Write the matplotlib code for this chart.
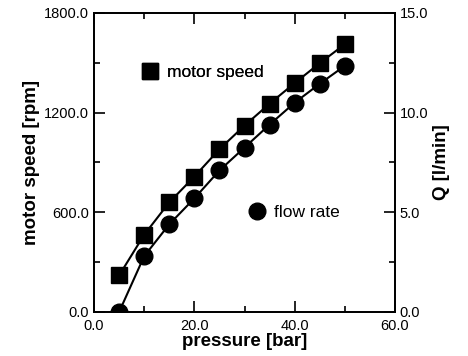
import matplotlib
matplotlib.use("Agg")
import matplotlib.pyplot as plt
from matplotlib.lines import Line2D
from matplotlib.ticker import MultipleLocator, FormatStrFormatter

plt.rcParams['font.family'] = ['Liberation Sans', 'DejaVu Sans']

# data
pressure = [5, 10, 15, 20, 25, 30, 35, 40, 45, 50]
motor_speed = [220, 465, 660, 815, 980, 1122, 1254, 1378, 1498, 1612]
flow_rate = [0.0, 2.8, 4.4, 5.7, 7.1, 8.25, 9.4, 10.5, 11.45, 12.35]

fig = plt.figure(figsize=(4.68, 3.56), dpi=100)
ax = fig.add_axes([0.2009, 0.1236, 0.6431, 0.8399])
ax2 = ax.twinx()

ax.plot(pressure, motor_speed, color='black', lw=1.5, marker='s', ms=11.5, mfc='black', mec='black')
ax2.plot(pressure, flow_rate, color='black', lw=1.5, marker='o', ms=12, mfc='black', mec='black')

ax.set_xlim(0, 60)
ax.set_ylim(0, 1800)
ax2.set_ylim(0, 15)

ax.xaxis.set_major_locator(MultipleLocator(20))
ax.xaxis.set_minor_locator(MultipleLocator(10))
ax.yaxis.set_major_locator(MultipleLocator(600))
ax.yaxis.set_minor_locator(MultipleLocator(300))
ax2.yaxis.set_major_locator(MultipleLocator(5))
ax2.yaxis.set_minor_locator(MultipleLocator(2.5))
ax.xaxis.set_major_formatter(FormatStrFormatter('%.1f'))
ax.yaxis.set_major_formatter(FormatStrFormatter('%.1f'))
ax2.yaxis.set_major_formatter(FormatStrFormatter('%.1f'))

ax.tick_params(which='both', direction='in', top=True, right=False, labelsize=10.5, width=1.2)
ax.tick_params(which='major', length=8)
ax.tick_params(which='minor', length=4.5)
ax.tick_params(axis='x', pad=5)
ax2.tick_params(which='both', direction='in', labelsize=10.5, width=1.2)
ax2.tick_params(which='major', length=8)
ax2.tick_params(which='minor', length=4.5)

for a in (ax, ax2):
    for s in a.spines.values():
        s.set_linewidth(1.3)

ax.set_xlabel('pressure [bar]', fontsize=13.5, fontweight='bold', labelpad=0)
ax.set_ylabel('motor speed [rpm]', fontsize=13.5, fontweight='bold', labelpad=3)
ax2.set_ylabel('Q [l/min]', fontsize=13.5, fontweight='bold', labelpad=3)

# marker labels inside the plot
h1 = Line2D([], [], ls='none', marker='s', ms=11.5, color='black')
h2 = Line2D([], [], ls='none', marker='o', ms=12, color='black')
leg1 = ax.legend([h1], ['motor speed'], loc='center left', bbox_to_anchor=(0.105, 0.80),
                 frameon=False, fontsize=12.5, handlelength=1.0, handletextpad=0.5)
ax.add_artist(leg1)
ax2.legend([h2], ['flow rate'], loc='center left', bbox_to_anchor=(0.46, 0.334),
           frameon=False, fontsize=12.5, handlelength=1.0, handletextpad=0.5)

fig.savefig('out.png', dpi=100)
